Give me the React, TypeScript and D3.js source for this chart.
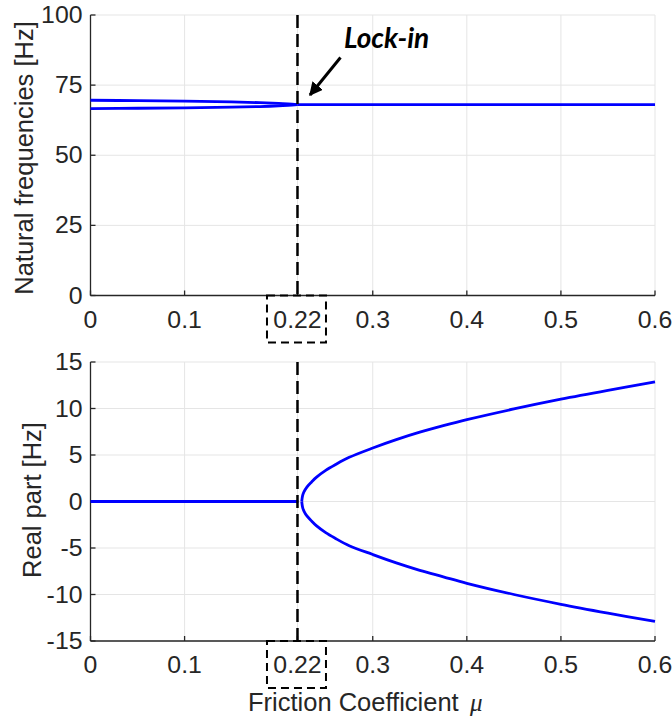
import React from "react";
import * as d3 from "d3";

// ---------- data ----------
const xTicks = [0, 0.1, 0.22, 0.3, 0.4, 0.5, 0.6];
const xTickLabels = ["0", "0.1", "0.22", "0.3", "0.4", "0.5", "0.6"];
const freqTicks = [0, 25, 50, 75, 100];
const realTicks = [-15, -10, -5, 0, 5, 10, 15];
const lockIn = 0.22;

// natural frequencies (Hz)
const freqMu = [0, 0.05, 0.1, 0.15, 0.18, 0.2, 0.21, 0.22];
const freqUpper = [69.6, 69.45, 69.3, 69.0, 68.75, 68.5, 68.3, 68.05];
const freqLower = [66.6, 66.75, 66.9, 67.15, 67.35, 67.6, 67.8, 68.05];
const freqLockedMu = [0.22, 0.6];
const freqLocked = [68.05, 68.05];

// real part (Hz)
const realFlatMu = [0, 0.221];
const realFlat = [0, 0];
const realMu = [0.2245, 0.2255, 0.227, 0.23, 0.235, 0.24, 0.25, 0.26, 0.275, 0.3, 0.325, 0.35, 0.375, 0.4, 0.45, 0.5, 0.55, 0.6];
const realUpper = [0, 0.65, 1.05, 1.55, 2.1, 2.6, 3.35, 3.95, 4.75, 5.75, 6.65, 7.45, 8.15, 8.8, 9.95, 11.0, 11.95, 12.85];
const realLower = [0, -0.65, -1.05, -1.55, -2.1, -2.6, -3.35, -3.95, -4.75, -5.7, -6.6, -7.4, -8.1, -8.8, -10.0, -11.05, -12.0, -12.9];

// ---------- layout ----------
const W = 672;
const H = 722;
const X0 = 90.5;
const X1 = 655;
const top1 = 15, bot1 = 295.5;
const top2 = 362, bot2 = 641;

const AX = "#262626";
const GRID = "#e5e5e5";
const BLUE = "#0000ff";
const FONT = "'Liberation Sans', Arial, Helvetica, sans-serif";

const x = d3.scaleLinear().domain([0, 0.6]).range([X0, X1]);
const yF = d3.scaleLinear().domain([0, 100]).range([bot1, top1]);
const yR = d3.scaleLinear().domain([-15, 15]).range([bot2, top2]);

function zip(a: number[], b: number[]): [number, number][] {
  return a.map((v, i) => [v, b[i]]);
}

function linePath(ys: d3.ScaleLinear<number, number>, pts: [number, number][]) {
  return (
    d3
      .line<[number, number]>()
      .x((d) => x(d[0]))
      .y((d) => ys(d[1]))
      .curve(d3.curveCatmullRom.alpha(0.5))(pts) || ""
  );
}

function Axes({
  ys,
  yTicks,
  top,
  bot,
}: {
  ys: d3.ScaleLinear<number, number>;
  yTicks: number[];
  top: number;
  bot: number;
}) {
  return (
    <g>
      {xTicks.map((t) => (
        <line key={"gx" + t} x1={x(t)} x2={x(t)} y1={top} y2={bot} stroke={GRID} strokeWidth={1} />
      ))}
      {yTicks.map((t) => (
        <line key={"gy" + t} x1={X0} x2={X1} y1={ys(t)} y2={ys(t)} stroke={GRID} strokeWidth={1} />
      ))}
      <line x1={X0} x2={X0} y1={top} y2={bot} stroke={AX} strokeWidth={1.3} />
      <line x1={X0} x2={X1} y1={bot} y2={bot} stroke={AX} strokeWidth={1.3} />
      {xTicks.map((t) => (
        <line key={"tx" + t} x1={x(t)} x2={x(t)} y1={bot} y2={bot - 5} stroke={AX} strokeWidth={1.3} />
      ))}
      {yTicks.map((t) => (
        <line key={"ty" + t} x1={X0} x2={X0 + 5} y1={ys(t)} y2={ys(t)} stroke={AX} strokeWidth={1.3} />
      ))}
      {xTicks.map((t, i) => (
        <text
          key={"lx" + t}
          transform={`translate(${x(t)},${bot + 32}) scale(1.08,1)`}
          textAnchor="middle"
          fontSize={23}
          fill={AX}
          fontFamily={FONT}
        >
          {xTickLabels[i]}
        </text>
      ))}
      {yTicks.map((t) => (
        <text
          key={"ly" + t}
          transform={`translate(${X0 - 8},${ys(t) + 8}) scale(1.08,1)`}
          textAnchor="end"
          fontSize={23}
          fill={AX}
          fontFamily={FONT}
        >
          {String(t)}
        </text>
      ))}
    </g>
  );
}

function DashBox({ cx, top }: { cx: number; top: number }) {
  const w = 59;
  const h = 47;
  return (
    <rect
      x={cx - w / 2}
      y={top}
      width={w}
      height={h}
      fill="none"
      stroke="#000"
      strokeWidth={2}
      strokeDasharray="8,5"
    />
  );
}

export default function App() {
  const lx = x(lockIn);
  return (
    <svg
      width={W}
      height={H}
      viewBox={`0 0 ${W} ${H}`}
      style={{ position: "absolute", left: 0, top: 0, background: "#fff" }}
    >
      <defs>
        <marker id="arr" viewBox="0 0 10 10" refX="9" refY="5" markerWidth="4.5" markerHeight="4.5" orient="auto">
          <path d="M0,0 L10,5 L0,10 z" fill="#000" />
        </marker>
      </defs>
      <rect x={0} y={0} width={W} height={H} fill="#fff" />

      {/* ---------- top panel ---------- */}
      <Axes ys={yF} yTicks={freqTicks} top={top1} bot={bot1} />
      <path d={linePath(yF, zip(freqMu, freqUpper))} fill="none" stroke={BLUE} strokeWidth={2.8} />
      <path d={linePath(yF, zip(freqMu, freqLower))} fill="none" stroke={BLUE} strokeWidth={2.8} />
      <path d={linePath(yF, zip(freqLockedMu, freqLocked))} fill="none" stroke={BLUE} strokeWidth={2.8} />
      <line x1={lx} x2={lx} y1={top1} y2={bot1} stroke="#000" strokeWidth={2.5} strokeDasharray="13,6" />
      <DashBox cx={lx - 1} top={bot1} />
      <text
        x={344}
        y={48}
        fontSize={28}
        fontWeight="bold"
        fontStyle="italic"
        fontFamily="Lato, 'Open Sans', sans-serif"
        fill="#000"
      >
        Lock-in
      </text>
      <line x1={340.5} y1={57.5} x2={310} y2={95} stroke="#000" strokeWidth={3} markerEnd="url(#arr)" />
      <text
        transform={`translate(33,158) rotate(-90)`}
        textAnchor="middle"
        fontSize={25.5}
        fill={AX}
        fontFamily={FONT}
      >
        Natural frequencies [Hz]
      </text>

      {/* ---------- bottom panel ---------- */}
      <Axes ys={yR} yTicks={realTicks} top={top2} bot={bot2} />
      <path d={linePath(yR, zip(realFlatMu, realFlat))} fill="none" stroke={BLUE} strokeWidth={2.8} />
      <path d={linePath(yR, zip(realMu, realUpper))} fill="none" stroke={BLUE} strokeWidth={2.8} />
      <path d={linePath(yR, zip(realMu, realLower))} fill="none" stroke={BLUE} strokeWidth={2.8} />
      <line x1={lx} x2={lx} y1={top2} y2={bot2} stroke="#000" strokeWidth={2.5} strokeDasharray="13,6" />
      <DashBox cx={lx - 1} top={bot2} />
      <text
        transform={`translate(41,500) rotate(-90)`}
        textAnchor="middle"
        fontSize={25.5}
        fill={AX}
        fontFamily={FONT}
      >
        Real part [Hz]
      </text>
      <text x={248} y={711} fontSize={25.5} fill={AX} fontFamily={FONT}>
        Friction Coefficient
      </text>
      <text x={470} y={711} fontSize={25} fontStyle="italic" fill={AX} fontFamily="'Liberation Serif', 'DejaVu Serif', serif">
        μ
      </text>
    </svg>
  );
}
